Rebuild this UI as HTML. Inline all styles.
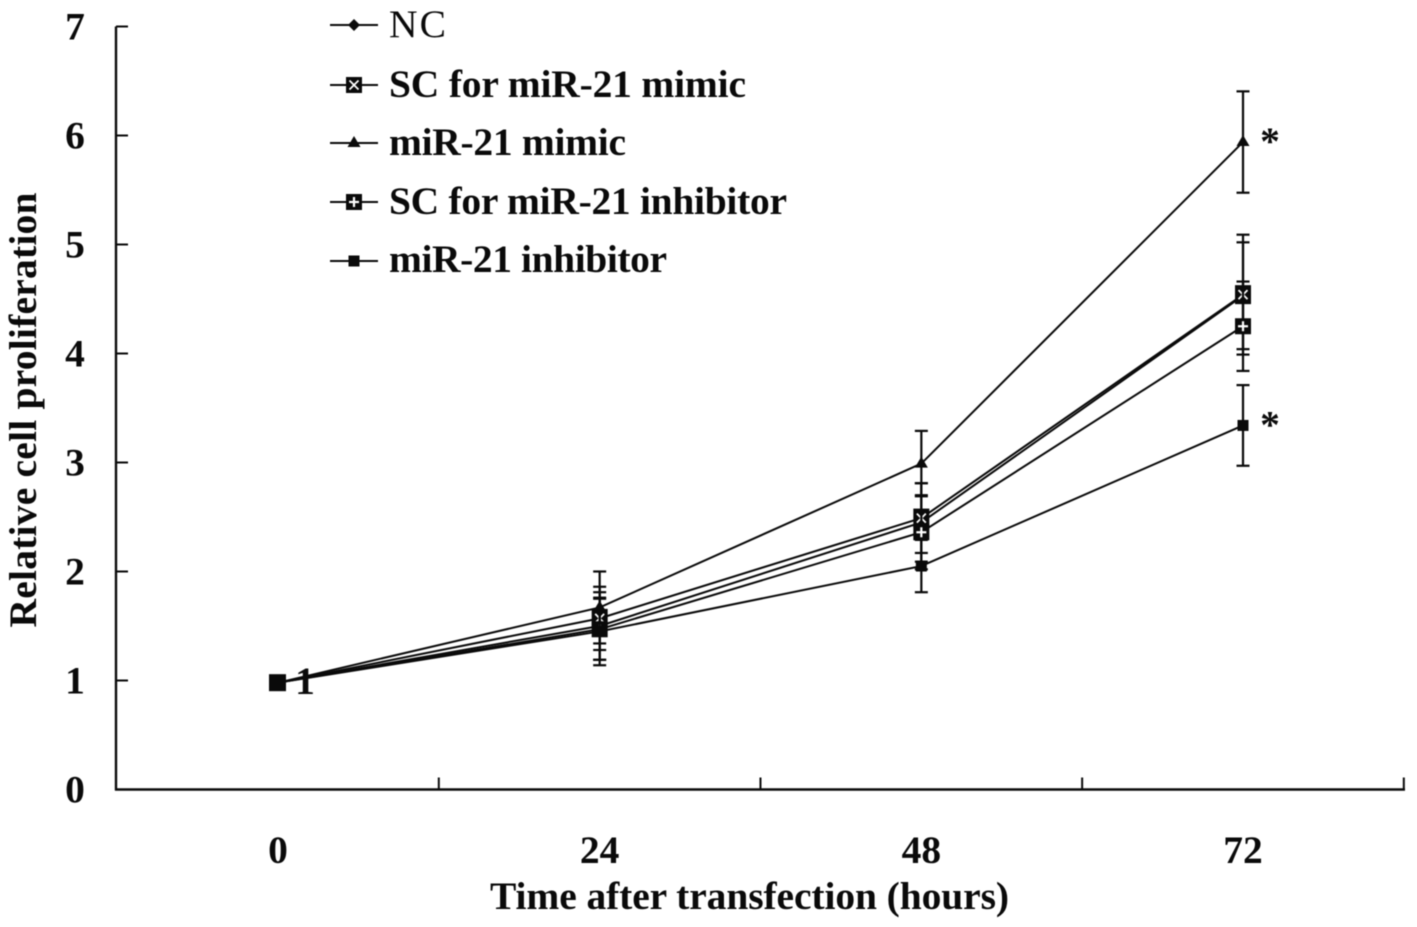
<!DOCTYPE html>
<html lang="en">
<head>
<meta charset="utf-8">
<title>Relative cell proliferation chart</title>
<style>
html,body{margin:0;padding:0;background:#fff;width:1417px;height:927px;overflow:hidden}
svg{display:block;filter:blur(0.4px)}
text{font-family:"Liberation Serif",serif;font-weight:bold;fill:#0a0a0a}
</style>
</head>
<body>
<svg id="chart" width="1417" height="927" viewBox="0 0 1417 927" xmlns="http://www.w3.org/2000/svg"></svg>
<script>
const hours = ['0','24','48','72'];
const yTickLabels = [0,1,2,3,4,5,6,7];
const ncValues = [0.98,1.50,2.45,4.53];
const ncErrors = [0,0.31,0.36,0.49];
const scMimicValues = [0.98,1.57,2.49,4.54];
const scMimicErrors = [0,0.29,0.32,0.55];
const mimicValues = [0.98,1.67,2.99,5.94];
const mimicErrors = [0,0.33,0.30,0.465];
const scInhibitorValues = [0.98,1.47,2.36,4.25];
const scInhibitorErrors = [0,0.28,0.34,0.41];
const inhibitorValues = [0.98,1.45,2.05,3.34];
const inhibitorErrors = [0,0.31,0.24,0.37];
const seriesNames = ['NC','SC for miR-21 mimic','miR-21 mimic','SC for miR-21 inhibitor','miR-21 inhibitor'];
const seriesKeys = ['nc','sc-mimic','mimic','sc-inhibitor','inhibitor'];
const seriesValues = [ncValues,scMimicValues,mimicValues,scInhibitorValues,inhibitorValues];
const seriesErrors = [ncErrors,scMimicErrors,mimicErrors,scInhibitorErrors,inhibitorErrors];
const significantSeries = [2,4];

const NS = 'http://www.w3.org/2000/svg';
const svg = document.getElementById('chart');
const INK = '#0a0a0a';
const FONT_SIZE = 39.5;
const xScale = i => 278 + i * 321.67;
const yScale = v => 789.5 - 109 * v;

function make(tag, attrs, parent) {
  const el = document.createElementNS(NS, tag);
  for (const k in attrs) el.setAttribute(k, attrs[k]);
  (parent || svg).appendChild(el);
  return el;
}
function line(x1, y1, x2, y2, w, parent, color) {
  return make('line', {x1, y1, x2, y2, stroke: color || INK, 'stroke-width': w}, parent);
}
function label(str, x, y, size, anchor, parent) {
  const t = make('text', {x, y, 'font-size': size, 'text-anchor': anchor || 'middle'}, parent);
  t.textContent = str;
  return t;
}
function marker(idx, cx, cy, big, parent) {
  if (idx === 0) {
    const s = 6;
    make('polygon', {points: [cx,cy-s,cx+s,cy,cx,cy+s,cx-s,cy].join(' '), fill: INK}, parent);
  } else if (idx === 1) {
    const w = 8, h = big ? 9.5 : 8;
    make('rect', {x: cx-w, y: cy-h, width: w*2, height: h*2, fill: INK}, parent);
    line(cx-4.5, cy-4.5, cx+4.5, cy+4.5, 1.8, parent, '#fff');
    line(cx-4.5, cy+4.5, cx+4.5, cy-4.5, 1.8, parent, '#fff');
  } else if (idx === 2) {
    make('polygon', {points: [cx,cy-7,cx+6.5,cy+4,cx-6.5,cy+4].join(' '), fill: INK}, parent);
  } else if (idx === 3) {
    make('rect', {x: cx-8, y: cy-8, width: 16, height: 16, fill: INK}, parent);
    line(cx-5, cy, cx+5, cy, 2.2, parent, '#fff');
    line(cx, cy-5, cx, cy+5, 2.2, parent, '#fff');
  } else {
    make('rect', {x: cx-5.5, y: cy-5.5, width: 11, height: 11, fill: INK}, parent);
  }
}

/* Axes */
const yAxis = line(116, yScale(7), 116, yScale(0) + 1, 2.4);


const xAxis = line(115, yScale(0), 1405, yScale(0), 2.4);



yTickLabels.forEach(v => {
  const tick = line(116, yScale(v), 128, yScale(v), 2);
  
  
  const t = label(String(v), 75, yScale(v) + 13, FONT_SIZE);
  
  
});

hours.forEach((h, i) => {
  const boundary = line(xScale(i) + 160.8, yScale(0), xScale(i) + 160.8, yScale(0) - 12, 2);
  
  
  const t = label(h, xScale(i), 863, FONT_SIZE);
  
  
});

/* Axis titles */
const xTitle = label('Time after transfection (hours)', 749.5, 909, FONT_SIZE);


xTitle.setAttribute('textLength', '519');
const yTitle = label('Relative cell proliferation', 0, 0, FONT_SIZE);
yTitle.setAttribute('transform', 'translate(36,410) rotate(-90)');


yTitle.setAttribute('textLength', '435');

/* Series */
seriesValues.forEach((vals, s) => {
  const g = make('g', {});
  
  
  const path = make('polyline', {
    points: vals.map((v, i) => xScale(i) + ',' + yScale(v)).join(' '),
    fill: 'none', stroke: INK, 'stroke-width': 2
  }, g);
  
  
  vals.forEach((v, i) => {
    const err = seriesErrors[s][i];
    if (err > 0) {
      const eb = make('g', {}, g);
      
      
      const x = xScale(i);
      line(x, yScale(v + err), x, yScale(v - err), 2.2, eb);
      line(x - 6.5, yScale(v + err), x + 6.5, yScale(v + err), 2.2, eb);
      line(x - 6.5, yScale(v - err), x + 6.5, yScale(v - err), 2.2, eb);
    }
  });
  vals.forEach((v, i) => {
    const m = make('g', {}, g);
    
    
    marker(s, xScale(i), yScale(v), i > 0, m);
  });
});

/* Origin block and label */
const originBlock = make('rect', {x: xScale(0) - 9, y: yScale(ncValues[0]) - 8.5, width: 17, height: 17, fill: INK});


const originLabel = label('1', 305, 694, FONT_SIZE);



/* Significance asterisks */
significantSeries.forEach(s => {
  const vals = seriesValues[s];
  const last = vals.length - 1;
  const star = label('*', xScale(last) + 27, yScale(vals[last]) + 12, FONT_SIZE);
  
  
});

/* Legend */
const legendRows = [25, 85, 143, 202, 261];
const legendBaselines = [37, 97, 155, 214, 272];
const legendWidths = [57, 357, 237, 398, 278];
const legend = make('g', {});


seriesNames.forEach((name, s) => {
  const row = make('g', {}, legend);
  
  
  line(330, legendRows[s], 378, legendRows[s], 2, row);
  marker(s, 354, legendRows[s], false, row);
  const t = label(name, 389, legendBaselines[s], FONT_SIZE, 'start', row);
  t.setAttribute('textLength', String(legendWidths[s]));
  if (s === 0) t.style.fontWeight = 'normal';
});
</script>
</body>
</html>
